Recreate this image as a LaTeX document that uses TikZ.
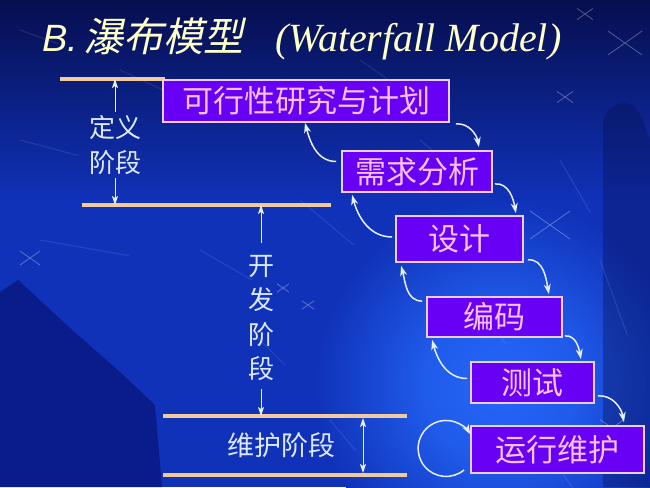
\documentclass[tikz,border=0pt]{standalone}
\usepackage{fontspec}
\setmainfont{Liberation Serif}
\newfontfamily\cjk{Noto Sans CJK SC}
\newfontfamily\cjkslant[FakeSlant=0.22]{Noto Sans CJK SC}
\newfontfamily\arial{Liberation Sans}
\usetikzlibrary{arrows.meta}

\definecolor{bgtop}{RGB}{6,14,78}
\definecolor{bgmid}{RGB}{16,50,185}
\definecolor{bgglow}{RGB}{36,102,248}
\definecolor{bgdark}{RGB}{10,28,138}
\definecolor{boxfill}{RGB}{104,0,245}
\definecolor{boxline}{RGB}{238,205,245}
\definecolor{boxtext}{RGB}{248,192,240}
\definecolor{phase}{RGB}{242,202,160}
\definecolor{arrowc}{RGB}{228,240,255}
\definecolor{labeltext}{RGB}{222,232,255}
\definecolor{titletext}{RGB}{255,255,200}

% soft glow: full strength in the centre, plain blue from 25bp outwards
\pgfdeclareradialshading{bgglowshade}{\pgfpoint{0bp}{0bp}}{%
  color(0bp)=(bgglow); color(10bp)=(bgglow!80!bgmid); color(25bp)=(bgmid); color(50bp)=(bgmid)}

\begin{document}
\begin{tikzpicture}[x=1pt,y=1pt,
  stage/.style={draw=boxline, fill=boxfill, line width=1.8pt, text=boxtext,
    font=\cjk\fontsize{31}{31}\selectfont, inner sep=0pt},
  phaseline/.style={draw=phase, line width=4pt},
  span/.style={draw=arrowc, line width=1pt, -{Stealth[length=9pt,width=6pt,inset=2pt]}},
  bothspan/.style={draw=arrowc, line width=1pt, {Stealth[length=9pt,width=6pt,inset=2pt]}-{Stealth[length=9pt,width=6pt,inset=2pt]}},
  flow/.style={draw=arrowc, line width=1.5pt, -{Stealth[length=10pt,width=7pt,inset=3pt]}},
  phaselabel/.style={text=labeltext, font=\cjk\fontsize{26}{35}\selectfont, align=center},
  star/.style={draw=white, opacity=0.3, line width=0.8pt},
  streak/.style={draw=white, opacity=0.10, line width=1pt, line cap=round}
]
\useasboundingbox (0,0) rectangle (650,-487);

% backdrop: navy sky fading into blue, with a glow at lower right
\shade[top color=bgtop, bottom color=bgmid] (0,0) rectangle (650,-200);
\fill[bgmid] (0,-200) rectangle (650,-487);
\shade[shading=bgglowshade] (500,-385) circle (185);
\fill[bgdark] (0,-292) -- (18,-280) -- (70,-328) -- (120,-372) -- (155,-405)
  -- (162,-487) -- (0,-487) -- cycle;
\fill[bgtop, opacity=0.35] (603,-487) -- (603,-125) to[out=90,in=180] (625,-103)
  to[out=0,in=120] (643,-120) -- (650,-140) -- (650,-487) -- cycle;

% faint light streaks
\foreach \x/\y/\a/\l in {20/30/-20/40, 120/70/-25/50, 360/60/-35/45, 420/140/-40/60,
  300/200/-40/70, 40/240/-10/90, 200/250/-30/60, 560/160/-60/60, 600/260/-70/80,
  480/300/-60/50, 250/330/-45/50, 330/420/-50/40, 560/470/-55/30, 20/140/-15/60}
  \draw[streak] (\x,-\y) -- ++(\a:\l);

% stars
\foreach \x/\y/\s in {625/43/17, 585/14/8, 565/97/8, 550/225/20, 283/288/6,
  308/305/6, 612/428/12, 30/258/10}
  \draw[star] (\x-\s,-\y-\s*0.7) -- (\x+\s,-\y+\s*0.7)
              (\x-\s,-\y+\s*0.7) -- (\x+\s,-\y-\s*0.7);

% title
\node[anchor=base west, inner sep=0pt, text=titletext] (title) at (42,-52)
  {{\arial\itshape\fontsize{38}{38}\selectfont B.}\hspace{5pt}%
   {\cjkslant\fontsize{40}{40}\selectfont 瀑布模型}\hspace{32pt}%
   {\itshape\fontsize{40}{40}\selectfont (Waterfall Model)}};

% phase boundaries
\coordinate (d1) at (60,-79);   \coordinate (d2) at (165,-79);
\coordinate (e1) at (82,-205);  \coordinate (e2) at (331,-205);
\coordinate (m1) at (163,-416); \coordinate (m2) at (407,-416);
\coordinate (n1) at (163,-475); \coordinate (n2) at (407,-475);
\draw[phaseline] (d1) -- (d2);
\draw[phaseline] (e1) -- (e2);
\draw[phaseline] (m1) -- (m2);
\draw[phaseline] (n1) -- (n2);

% stages
\node[stage, minimum width=286pt, minimum height=42pt] (feas) at (306,-101) {可行性研究与计划};
\node[stage, minimum width=150pt, minimum height=41pt] (req)  at (417,-171.5) {需求分析};
\node[stage, minimum width=127pt, minimum height=46pt] (des)  at (459.5,-239) {设计};
\node[stage, minimum width=135pt, minimum height=40pt] (code) at (494.5,-317) {编码};
\node[stage, minimum width=123pt, minimum height=41pt] (test) at (532.5,-382.5) {测试};
\node[stage, minimum width=173pt, minimum height=47pt] (run)  at (557.5,-449.5) {运行维护};

% phase labels and their extents
\node[phaselabel, inner sep=3pt] (defn) at (115,-145) {定义\\阶段};
\draw[span] (defn.north) -- (defn.north |- d1);
\draw[span] (defn.south) -- (defn.south |- e1);

\node[phaselabel, inner sep=0pt, font=\cjk\fontsize{26}{34.5}\selectfont] (dev) at (261,-318)
  {开\\发\\阶\\段};
\draw[span] ([yshift=12pt]dev.north) -- (dev.north |- e1);
\draw[span] ([yshift=-8pt]dev.south) -- (dev.south |- m1);

\node[phaselabel, inner sep=0pt, font=\cjk\fontsize{27}{27}\selectfont] (maint) at (281,-445) {维护阶段};
\coordinate (mt) at (363,-418);
\coordinate (mb) at (363,-473);
\draw[bothspan] (mt) -- (mb);

% forward flow
\draw[flow] ([shift={(6,-1)}]feas.south east) to[out=5,in=100] ([shift={(-14,3)}]req.north east);
\draw[flow] ([shift={(2,9)}]req.south east) to[out=5,in=100] ([shift={(-8,2)}]des.north east);
\draw[flow] ([shift={(4,3)}]des.south east) to[out=5,in=100] ([shift={(-14,2)}]code.north east);
\draw[flow] ([shift={(2,2)}]code.south east) to[out=5,in=100] ([shift={(-14,2)}]test.north east);
\draw[flow] ([shift={(3,8)}]test.south east) to[out=5,in=100] ([shift={(-21,3)}]run.north east);

% feedback
\draw[flow] ([shift={(-5,10)}]req.west) to[out=180,in=-75] ([xshift=-1pt]feas.south);
\draw[flow] ([shift={(-3,2)}]des.west) to[out=180,in=-75] ([shift={(11,-2)}]req.south west);
\draw[flow] ([shift={(-4,-5)}]code.north west) to[out=180,in=-75] ([shift={(6,-3)}]des.south west);
\draw[flow] ([shift={(-3,4)}]test.west) to[out=180,in=-75] ([shift={(6,-2)}]code.south west);
\draw[flow] ([shift={(-6,4)}]run.south west) arc[start angle=-50, end angle=-330, radius=28];
\end{tikzpicture}
\end{document}
